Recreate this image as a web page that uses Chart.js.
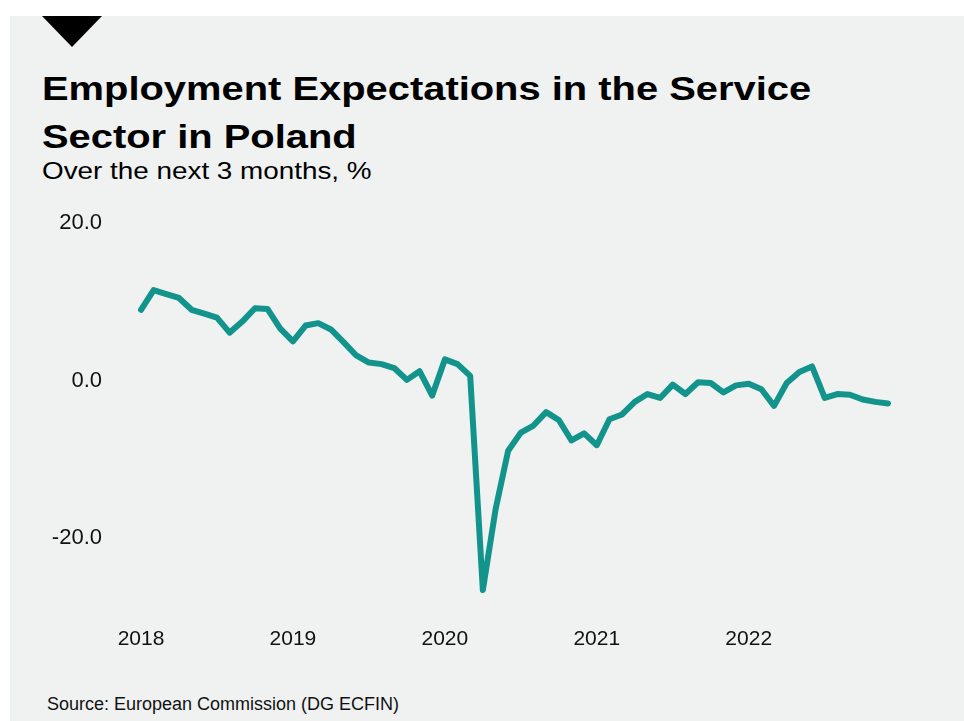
<!DOCTYPE html>
<html>
<head>
<meta charset="utf-8">
<script src="https://cdn.jsdelivr.net/npm/chart.js@4/dist/chart.umd.min.js"></script>
<style>
  html, body { margin: 0; padding: 0; background: #fff; }
  body { width: 964px; height: 721px; position: relative; overflow: hidden; font-family: "Liberation Sans", Arial, sans-serif; }
  #panel { position: absolute; left: 10px; top: 16px; right: 0; bottom: 0; background: #eff2f1; }
  #marker { position: absolute; left: 42px; top: 16px; width: 0; height: 0;
    border-left: 30px solid transparent; border-right: 30px solid transparent; border-top: 31px solid #000; }
  .txt { position: absolute; white-space: nowrap; transform-origin: 0 0; color: #000; }
  #title { left: 42px; top: 64px; font-size: 34px; line-height: 48px; font-weight: bold; transform: scaleX(1.173); }
  #subtitle { left: 42px; top: 156px; font-size: 24px; line-height: 30px; transform: scaleX(1.16); }
  #source { left: 47px; top: 693px; font-size: 18px; line-height: 22px; color: #111; }
  #wrap { position: absolute; left: 0; top: 171px; width: 964px; height: 498px; }
</style>
</head>
<body>
<div id="panel"></div>
<div id="marker"></div>
<div id="title" class="txt">Employment Expectations in the Service<br>Sector in Poland</div>
<div id="subtitle" class="txt">Over the next 3 months, %</div>
<div id="source" class="txt">Source: European Commission (DG ECFIN)</div>
<div id="wrap"><canvas id="myChart"></canvas></div>
<script>
// monthly, Jan 2018 .. Dec 2022
const years = [2018, 2019, 2020, 2021, 2022];
const months = ["01", "02", "03", "04", "05", "06", "07", "08", "09", "10", "11", "12"];
const labels = [];
years.forEach(y => months.forEach(m => labels.push(y + "-" + m)));

const values2018 = [9.0, 11.5, 11.0, 10.5, 9.0, 8.5, 8.0, 6.1, 7.5, 9.2, 9.1, 6.6];
const values2019 = [5.0, 7.0, 7.3, 6.5, 4.9, 3.2, 2.3, 2.1, 1.6, 0.1, 1.2, -1.9];
const values2020 = [2.7, 2.1, 0.6, -26.6, -16.4, -8.9, -6.6, -5.7, -4.0, -5.0, -7.6, -6.7];
const values2021 = [-8.2, -4.9, -4.3, -2.7, -1.7, -2.2, -0.5, -1.7, -0.2, -0.3, -1.5, -0.6];
const values2022 = [-0.4, -1.1, -3.2, -0.3, 1.1, 1.8, -2.2, -1.7, -1.8, -2.4, -2.7, -2.9];
const values = [].concat(values2018, values2019, values2020, values2021, values2022);

const yTicks = [-20, 0, 20];

const ctx = document.getElementById("myChart");
new Chart(ctx, {
  type: "line",
  data: {
    labels: labels,
    datasets: [{
      label: "Employment expectations",
      data: values,
      borderColor: "#12948c",
      borderWidth: 6,
      borderCapStyle: "round",
      borderJoinStyle: "round",
      pointRadius: 0,
      tension: 0,
      fill: false
    }]
  },
  options: {
    responsive: true,
    maintainAspectRatio: false,
    animation: false,
    layout: { padding: { top: 21, right: 76, left: 0, bottom: 0 } },
    plugins: { legend: { display: false }, tooltip: { enabled: false } },
    scales: {
      x: {
        type: "category",
        offset: false,
        grid: { display: false, drawTicks: false },
        border: { display: false },
        afterFit: scale => { scale.height = 44; },
        ticks: {
          autoSkip: false,
          maxRotation: 0,
          padding: 10,
          color: "#111",
          font: { family: "'Liberation Sans', Arial, sans-serif", size: 21 },
          callback: function (val, i) {
            const l = labels[i];
            return l.endsWith("-01") ? l.slice(0, 4) : "";
          }
        }
      },
      y: {
        min: -30,
        max: 20,
        grid: { display: false, drawTicks: false },
        border: { display: false },
        afterFit: scale => { scale.width = 141; },
        afterBuildTicks: axis => { axis.ticks = yTicks.map(v => ({ value: v })); },
        ticks: {
          padding: 39,
          color: "#111",
          font: { family: "'Liberation Sans', Arial, sans-serif", size: 22 },
          callback: v => v.toFixed(1)
        }
      }
    }
  }
});
</script>
</body>
</html>
